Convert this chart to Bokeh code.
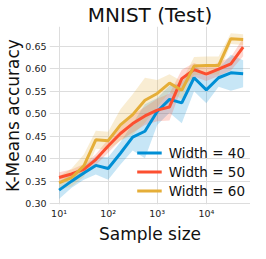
import numpy as np
from bokeh.plotting import figure
from bokeh.models import FixedTicker, Range1d, Legend, LegendItem, Title
from bokeh.embed import file_html
from bokeh.resources import INLINE

# ---- data ----
sample_sizes = [10, 18, 32, 56, 100, 178, 316, 562, 1000, 1778, 3162, 5623, 10000, 17783, 31623, 56234]
series_labels = ["Width = 40", "Width = 50", "Width = 60"]
mean_w40 = [0.330, 0.350, 0.368, 0.385, 0.378, 0.412, 0.448, 0.461, 0.505, 0.532, 0.524, 0.580, 0.553, 0.580, 0.591, 0.589]
std_w40 = [0.020, 0.015, 0.015, 0.020, 0.025, 0.025, 0.030, 0.060, 0.030, 0.030, 0.045, 0.030, 0.030, 0.020, 0.040, 0.030]
mean_w50 = [0.358, 0.366, 0.376, 0.398, 0.428, 0.456, 0.478, 0.495, 0.508, 0.515, 0.578, 0.598, 0.588, 0.599, 0.611, 0.648]
std_w50 = [0.012, 0.010, 0.012, 0.012, 0.015, 0.015, 0.020, 0.020, 0.025, 0.030, 0.020, 0.015, 0.015, 0.015, 0.015, 0.020]
mean_w60 = [0.346, 0.358, 0.384, 0.442, 0.440, 0.475, 0.498, 0.530, 0.545, 0.568, 0.552, 0.606, 0.607, 0.607, 0.667, 0.665]
std_w60 = [0.015, 0.020, 0.025, 0.020, 0.020, 0.035, 0.045, 0.050, 0.030, 0.020, 0.020, 0.020, 0.020, 0.020, 0.012, 0.012]
x_ticks = [10, 100, 1000, 10000]
x_tick_labels = ["10\u00b9", "10\u00b2", "10\u00b3", "10\u2074"]
y_ticks = [0.30, 0.35, 0.40, 0.45, 0.50, 0.55, 0.60, 0.65]
y_tick_labels = ["0.30", "0.35", "0.40", "0.45", "0.50", "0.55", "0.60", "0.65"]
colors = ["#008FD5", "#FC4F30", "#E5AE38"]
title_text = "MNIST (Test)"
x_label = "Sample size"
y_label = "K-Means accuracy"

FONT = "DejaVu Sans"

p = figure(width=250, height=243, x_axis_type="log", output_backend="svg",
           toolbar_location=None, title=title_text,
           min_border_left=0, min_border_right=0, min_border_top=0, min_border_bottom=0)
p.x_range = Range1d(10 ** 0.805, 10 ** 4.9)
p.y_range = Range1d(0.298, 0.694)

p.title.text_font = FONT
p.title.text_font_size = "20px"
p.title.text_font_style = "normal"
p.title.align = "center"
p.title.text_color = "#111111"
p.title.standoff = 0
p.title.offset = 0

p.outline_line_color = None
p.background_fill_color = "white"

for ax in (p.xaxis, p.yaxis):
    ax.axis_line_color = None
    ax.major_tick_line_color = None
    ax.minor_tick_line_color = None
    ax.major_tick_out = 0
    ax.major_tick_in = 0
    ax.minor_tick_out = 0
    ax.minor_tick_in = 0
    ax.major_label_text_font = FONT
    ax.major_label_text_font_size = "9.5px"
    ax.major_label_text_color = "#222222"

p.xaxis.ticker = FixedTicker(ticks=x_ticks)
p.xaxis.major_label_overrides = {t: l for t, l in zip(x_ticks, x_tick_labels)}
p.xaxis.major_label_standoff = 3

p.yaxis.ticker = FixedTicker(ticks=y_ticks)
p.yaxis.major_label_overrides = {t: l for t, l in zip(y_ticks, y_tick_labels)}
p.yaxis.major_label_standoff = 3

p.add_layout(Title(text=x_label, align="center", text_font=FONT, text_font_size="17px",
                   text_font_style="normal", text_color="#111111",
                   standoff=0, offset=0), "below")
p.add_layout(Title(text=y_label, align="center", text_font=FONT, text_font_size="17px",
                   text_font_style="normal", text_color="#111111",
                   standoff=0, offset=0), "left")

p.xgrid.grid_line_color = "#dddddd"
p.ygrid.grid_line_color = "#dddddd"
p.xgrid.grid_line_width = 1
p.ygrid.grid_line_width = 1

x = np.array(sample_sizes, dtype=float)
means = [np.array(mean_w40), np.array(mean_w50), np.array(mean_w60)]
stds = [np.array(std_w40), np.array(std_w50), np.array(std_w60)]

for m, s, c in zip(means, stds, colors):
    p.varea(x=x, y1=m - s, y2=m + s, fill_color=c, fill_alpha=0.22)

items = []
for m, c, lab in zip(means, colors, series_labels):
    r = p.line(x, m, line_color=c, line_width=3)
    items.append(LegendItem(label=lab, renderers=[r]))

legend = Legend(items=items, location="bottom_right")
legend.label_text_font = FONT
legend.label_text_font_size = "13.5px"
legend.label_text_color = "#111111"
legend.background_fill_alpha = 0
legend.border_line_color = None
legend.glyph_width = 25
legend.glyph_height = 17
legend.spacing = 2
legend.padding = 5
legend.margin = 5
legend.label_standoff = 7
p.add_layout(legend)

open("out.html", "w").write(file_html(p, INLINE))
